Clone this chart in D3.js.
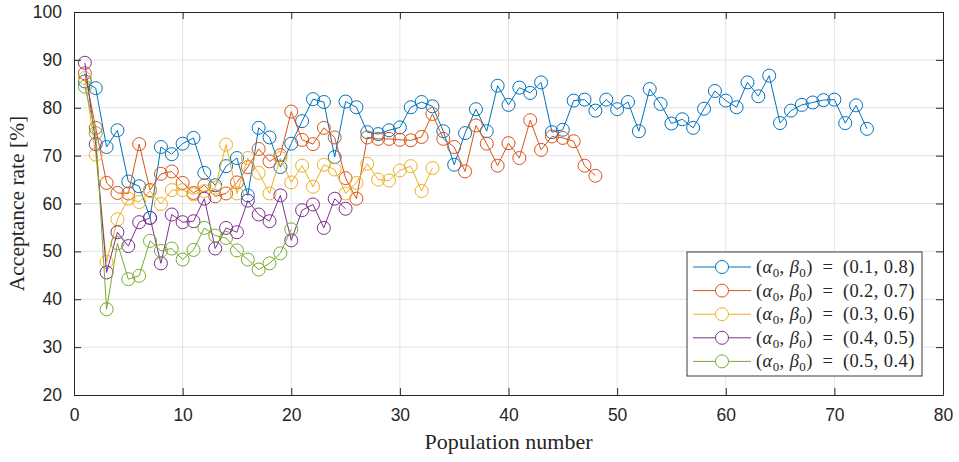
<!DOCTYPE html>
<html>
<head>
<meta charset="utf-8">
<script src="https://cdn.jsdelivr.net/npm/d3@7"></script>
<style>
  body { margin: 0; background: #fff; }
  svg text { fill: #262626; }
</style>
</head>
<body>
<div id="chart"></div>
<script>
// acceptance rate per population, one array per (alpha0, beta0) setting
var rate01 = [85.5, 84.1, 71.8, 75.3, 64.6, 63.6, 57.0, 71.8, 70.3, 72.5, 73.7, 66.4, 63.8, 67.8, 69.5,
  61.7, 75.8, 73.8, 67.6, 72.5, 77.2, 81.8, 81.2, 69.7, 81.3, 80.1, 74.9, 74.5, 75.3, 75.9,
  80.1, 81.2, 80.3, 75.1, 68.1, 74.7, 79.7, 75.1, 84.6, 80.6, 84.2, 83.1, 85.3, 74.9, 75.4,
  81.5, 81.7, 79.4, 81.7, 79.7, 81.2, 75.1, 83.9, 80.8, 76.7, 77.6, 75.8, 79.8, 83.5, 81.5,
  80.1, 85.3, 82.4, 86.7, 76.8, 79.4, 80.6, 81.1, 81.6, 81.7, 76.8, 80.5, 75.6];
var rate02 = [87.2, 75.8, 64.3, 62.2, 62.1, 72.4, 62.8, 66.2, 66.7, 64.3, 62.2, 63.8, 61.5, 62.1, 64.4,
  67.6, 71.4, 68.8, 70.1, 79.2, 73.3, 72.4, 75.8, 73.8, 65.3, 61.0, 73.8, 73.5, 73.5, 73.3,
  73.2, 73.9, 78.7, 73.5, 71.8, 66.7, 76.3, 72.5, 67.9, 72.6, 69.5, 77.4, 71.2, 74.0, 73.7,
  73.0, 67.9, 65.8];
var rate03 = [86.2, 70.2, 47.8, 56.7, 61.0, 60.3, 62.6, 59.9, 62.8, 62.8, 61.9, 62.6, 63.3, 72.3, 62.1,
  69.5, 66.4, 62.1, 69.5, 64.4, 67.9, 63.5, 68.1, 67.1, 62.1, 64.3, 68.3, 65.0, 64.8, 66.9,
  67.8, 62.6, 67.4];
var rate04 = [89.4, 72.4, 45.6, 54.0, 51.1, 56.1, 57.0, 47.5, 57.7, 56.1, 56.3, 61.0, 50.6, 54.9, 54.0,
  60.6, 57.7, 56.3, 61.7, 52.3, 58.6, 59.8, 54.9, 61.0, 58.9];
var rate05 = [84.4, 74.7, 37.9, 51.7, 44.2, 44.9, 52.2, 50.1, 50.6, 48.3, 50.3, 54.9, 53.3, 52.8, 50.2,
  48.3, 46.2, 47.5, 49.6, 54.6];

var alphas = ["0.1", "0.2", "0.3", "0.4", "0.5"];
var betas = ["0.8", "0.7", "0.6", "0.5", "0.4"];
var colors = ["#0072BD", "#D95319", "#EDB120", "#7E2F8E", "#77AC30"];
var xTicks = [0, 10, 20, 30, 40, 50, 60, 70, 80];
var yTicks = [20, 30, 40, 50, 60, 70, 80, 90, 100];

var allRates = [rate01, rate02, rate03, rate04, rate05];

var width = 959;
var height = 462;
var margin = {top: 12, right: 16, bottom: 67, left: 74};
var innerW = width - margin.left - margin.right;
var innerH = height - margin.top - margin.bottom;

var x = d3.scaleLinear().domain([0, 80]).range([0, innerW]);
var y = d3.scaleLinear().domain([20, 100]).range([innerH, 0]);

var svg = d3.select("#chart")
    .append("svg")
    .attr("width", width)
    .attr("height", height)
    .append("g")
    .attr("transform", "translate(" + margin.left + "," + margin.top + ")");

// grid
svg.append("g")
    .selectAll("line")
    .data(xTicks.slice(1, -1))
  .enter().append("line")
    .attr("x1", function(d) { return x(d); })
    .attr("x2", function(d) { return x(d); })
    .attr("y1", 0)
    .attr("y2", innerH)
    .style("stroke", "#e3e3e3")
    .style("stroke-width", 1);

svg.append("g")
    .selectAll("line")
    .data(yTicks.slice(1, -1))
  .enter().append("line")
    .attr("x1", 0)
    .attr("x2", innerW)
    .attr("y1", function(d) { return y(d); })
    .attr("y2", function(d) { return y(d); })
    .style("stroke", "#e3e3e3")
    .style("stroke-width", 1);

// axes, ticks point inward like matlab
var xAxis = d3.axisBottom(x).tickValues(xTicks).tickSizeInner(-7).tickSizeOuter(0).tickPadding(14);
var yAxis = d3.axisLeft(y).tickValues(yTicks).tickSizeInner(-7).tickSizeOuter(0).tickPadding(12);

svg.append("g")
    .attr("transform", "translate(0," + innerH + ")")
    .call(xAxis);
svg.append("g").call(yAxis);

svg.append("g").call(d3.axisTop(x).tickValues(xTicks).tickSizeInner(-7).tickSizeOuter(0).tickFormat(""));
svg.append("g")
    .attr("transform", "translate(" + innerW + ",0)")
    .call(d3.axisRight(y).tickValues(yTicks).tickSizeInner(-7).tickSizeOuter(0).tickFormat(""));

svg.selectAll(".domain").style("stroke", "#262626");
svg.selectAll(".tick line").style("stroke", "#262626");
svg.selectAll(".tick text")
    .style("font-family", "'Liberation Sans', Arial, sans-serif")
    .style("font-size", "17.5px")
    .style("fill", "#262626");

// series
var line = d3.line()
    .x(function(d, i) { return x(i + 1); })
    .y(function(d) { return y(d); });

allRates.forEach(function(rates, k) {
    var g = svg.append("g");
    g.append("path")
        .datum(rates)
        .attr("d", line)
        .style("fill", "none")
        .style("stroke", colors[k])
        .style("stroke-width", 1);
    g.selectAll("circle")
        .data(rates)
      .enter().append("circle")
        .attr("cx", function(d, i) { return x(i + 1); })
        .attr("cy", function(d) { return y(d); })
        .attr("r", 6.5)
        .style("fill", "none")
        .style("stroke", colors[k])
        .style("stroke-width", 1);
});

// axis labels
svg.append("text")
    .attr("x", innerW / 2)
    .attr("y", innerH + 54)
    .attr("text-anchor", "middle")
    .style("font-family", "'Liberation Serif', 'Times New Roman', serif")
    .style("font-size", "22px")
    .text("Population number");

svg.append("text")
    .attr("transform", "translate(" + (-50) + "," + (innerH / 2) + ") rotate(-90)")
    .attr("text-anchor", "middle")
    .style("font-family", "'Liberation Serif', 'Times New Roman', serif")
    .style("font-size", "21.5px")
    .text("Acceptance rate [%]");

// legend
var legX = 613, legY = 240, legW = 235, legH = 124, rowH = 23.6;
var legend = svg.append("g").attr("transform", "translate(" + legX + "," + legY + ")");

legend.append("rect")
    .attr("width", legW)
    .attr("height", legH)
    .style("fill", "#fff")
    .style("stroke", "#3a3a3a")
    .style("stroke-width", 1);

alphas.forEach(function(a, k) {
    var row = legend.append("g")
        .attr("transform", "translate(0," + (15 + k * rowH) + ")");
    row.append("line")
        .attr("x1", 6).attr("x2", 64)
        .style("stroke", colors[k])
        .style("stroke-width", 1);
    row.append("circle")
        .attr("cx", 35).attr("r", 6.5)
        .style("fill", "#fff")
        .style("stroke", colors[k]);
    var t = row.append("text")
        .attr("x", 69)
        .attr("y", 6)
        .style("font-family", "'Liberation Serif', 'DejaVu Serif', serif")
        .style("font-size", "18.5px")
        .style("letter-spacing", "0.4px");
    t.append("tspan").text("(");
    t.append("tspan").style("font-style", "italic").text("α");
    t.append("tspan").attr("dy", 4).style("font-size", "13px").text("0");
    t.append("tspan").attr("dy", -4).text(", ");
    t.append("tspan").style("font-style", "italic").text("β");
    t.append("tspan").attr("dy", 4).style("font-size", "13px").text("0");
    t.append("tspan").attr("dy", -4).text(")\u2002=\u2002(" + a + ", " + betas[k] + ")");
});
</script>
</body>
</html>
